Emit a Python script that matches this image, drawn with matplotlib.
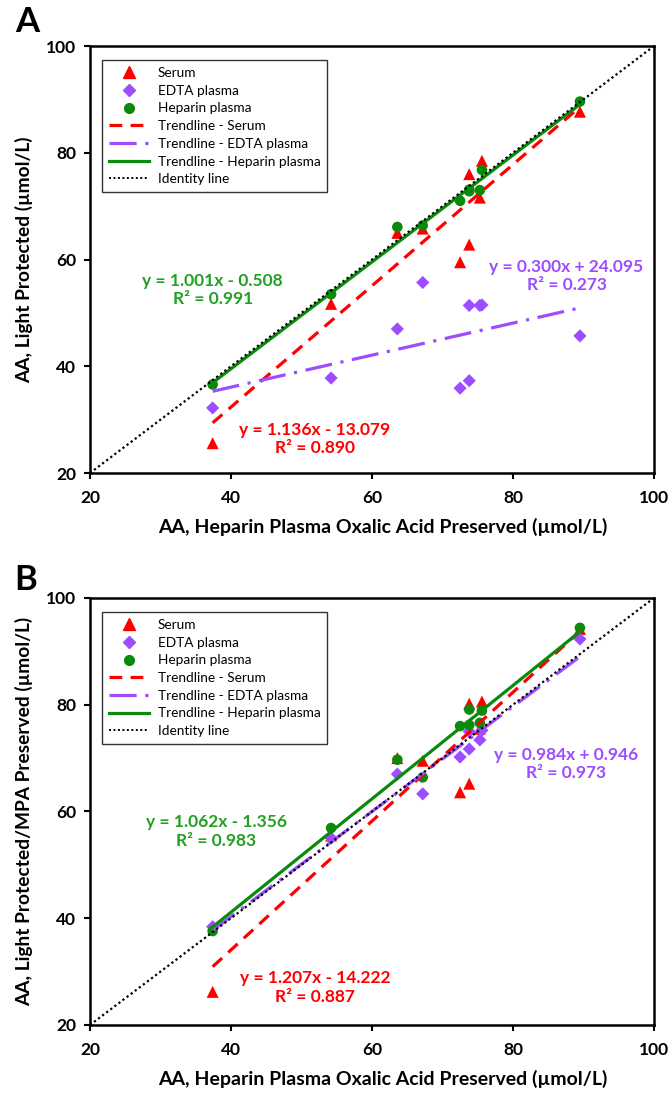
import numpy as np
import matplotlib
matplotlib.use('Agg')
import matplotlib.pyplot as plt
from matplotlib.lines import Line2D

plt.rcParams['font.family'] = ['Lato', 'DejaVu Sans']

# AA measured in heparin plasma with oxalic acid (reference method), umol/L
hep_oxalic = [37.4, 54.2, 63.6, 67.2, 72.5, 73.8, 73.8, 75.3, 75.6, 89.5]

# A: light protected only
serum_A = [25.6, 51.7, 65.0, 65.8, 59.5, 76.0, 62.8, 71.6, 78.5, 87.7]
edta_A = [32.2, 37.8, 47.0, 55.7, 35.9, 37.3, 51.4, 51.4, 51.5, 45.7]
hep_A = [36.6, 53.5, 66.1, 66.4, 71.0, 72.8, 73.1, 73.0, 76.8, 89.6]
slope_A = [1.136, 0.300, 1.001]
icept_A = [-13.079, 24.095, -0.508]
r2_A = [0.890, 0.273, 0.991]

# B: light protected + MPA preserved
serum_B = [26.2, 55.5, 70.0, 69.5, 63.6, 80.2, 65.2, 75.5, 80.6, 94.2]
edta_B = [38.4, 55.0, 67.0, 63.3, 70.2, 71.7, 75.0, 73.4, 75.2, 92.3]
hep_B = [37.6, 56.9, 69.7, 66.4, 76.0, 76.2, 79.1, 76.6, 78.9, 94.4]
slope_B = [1.207, 0.984, 1.062]
icept_B = [-14.222, 0.946, -1.356]
r2_B = [0.887, 0.973, 0.983]

names = ['Serum', 'EDTA plasma', 'Heparin plasma']
ticks = [20, 40, 60, 80, 100]

RED = '#ff0000'
PURPLE = '#9d4dff'
GREEN = '#0a8a0a'
GREEN_TXT = '#22a022'
markers = ['^', 'D', 'o']
msizes = [75, 45, 58]
colors = [RED, PURPLE, GREEN]
txt_colors = [RED, PURPLE, GREEN_TXT]
styles = [(0, (4, 2.6)), (0, (8.5, 2.7, 1, 2.7)), '-']

# where the equation labels sit (data coords)
eq_pos_A = [(51.9, 26.4), (87.6, 56.9), (37.4, 54.3)]
eq_pos_B = [(51.9, 27.0), (87.6, 68.9), (37.9, 56.3)]


def eq_text(m, b, r2):
    sign = '+' if b >= 0 else '-'
    return f'y = {m:.3f}x {sign} {abs(b):.3f}\nR\u00b2 = {r2:.3f}'


def panel(ax, ys, slopes, icepts, r2s, eq_pos, ylabel):
    x = np.array(hep_oxalic)
    # identity line
    ax.plot([20, 100], [20, 100], color='black', lw=1.6,
            linestyle=(0, (1, 1.3)), zorder=5)
    for i in range(3):
        ax.scatter(x, ys[i], marker=markers[i], s=msizes[i], color=colors[i],
                   edgecolors='none', zorder=3 + i * 0.1)
    xs = np.array([x.min(), x.max()])
    for i in range(3):
        ax.plot(xs, slopes[i] * xs + icepts[i], color=colors[i], lw=2.3,
                linestyle=styles[i], zorder=4)
        ax.text(eq_pos[i][0], eq_pos[i][1], eq_text(slopes[i], icepts[i], r2s[i]),
                color=txt_colors[i], fontsize=12.5, fontweight='bold',
                ha='center', va='center', linespacing=1.2)

    ax.set_xlim(20, 100)
    ax.set_ylim(20, 100)
    ax.set_xticks(ticks)
    ax.set_yticks(ticks)
    ax.tick_params(direction='out', length=4, width=1.5, labelsize=12.5, pad=6)
    ax.tick_params(axis='x', pad=8)
    for lab in ax.get_xticklabels() + ax.get_yticklabels():
        lab.set_fontweight('bold')
    for sp in ax.spines.values():
        sp.set_linewidth(1.8)
    ax.set_xlabel('AA, Heparin Plasma Oxalic Acid Preserved (\u00b5mol/L)',
                  fontsize=14, fontweight='bold', va='center')
    ax.xaxis.set_label_coords(0.52, -0.127)
    ax.set_ylabel(ylabel, fontsize=13.8, fontweight='bold', labelpad=9)

    handles = [Line2D([], [], marker=markers[i], color=colors[i], linestyle='none',
                      markersize=[8.5, 6, 7][i]) for i in range(3)]
    handles += [Line2D([], [], color=colors[i], lw=2.3, linestyle=styles[i]) for i in range(3)]
    handles.append(Line2D([], [], color='black', lw=1.4, linestyle=(0, (1, 1.3))))
    labels = names + ['Trendline - ' + n for n in names] + ['Identity line']
    leg = ax.legend(handles, labels, loc='upper left', bbox_to_anchor=(0.021, 0.967),
                    fontsize=9.8, frameon=True, fancybox=False, framealpha=1,
                    edgecolor='#333333', handlelength=3.0, handletextpad=0.6,
                    labelspacing=0.42, borderpad=0.5, borderaxespad=0)
    leg.get_frame().set_linewidth(1.0)


fig = plt.figure(figsize=(6.71, 10.94), dpi=100)
axA = fig.add_axes([0.1341, 0.5676, 0.8405, 0.3903])
axB = fig.add_axes([0.1341, 0.0631, 0.8405, 0.3903])

panel(axA, [serum_A, edta_A, hep_A], slope_A, icept_A, r2_A, eq_pos_A,
      'AA, Light Protected (\u00b5mol/L)')
panel(axB, [serum_B, edta_B, hep_B], slope_B, icept_B, r2_B, eq_pos_B,
      'AA, Light Protected/MPA Preserved (\u00b5mol/L)')

fig.text(0.040, 0.980, 'A', fontsize=25, fontweight='bold', ha='center', va='center')
fig.text(0.039, 0.470, 'B', fontsize=25, fontweight='bold', ha='center', va='center')

fig.savefig('out.png', dpi=100)
